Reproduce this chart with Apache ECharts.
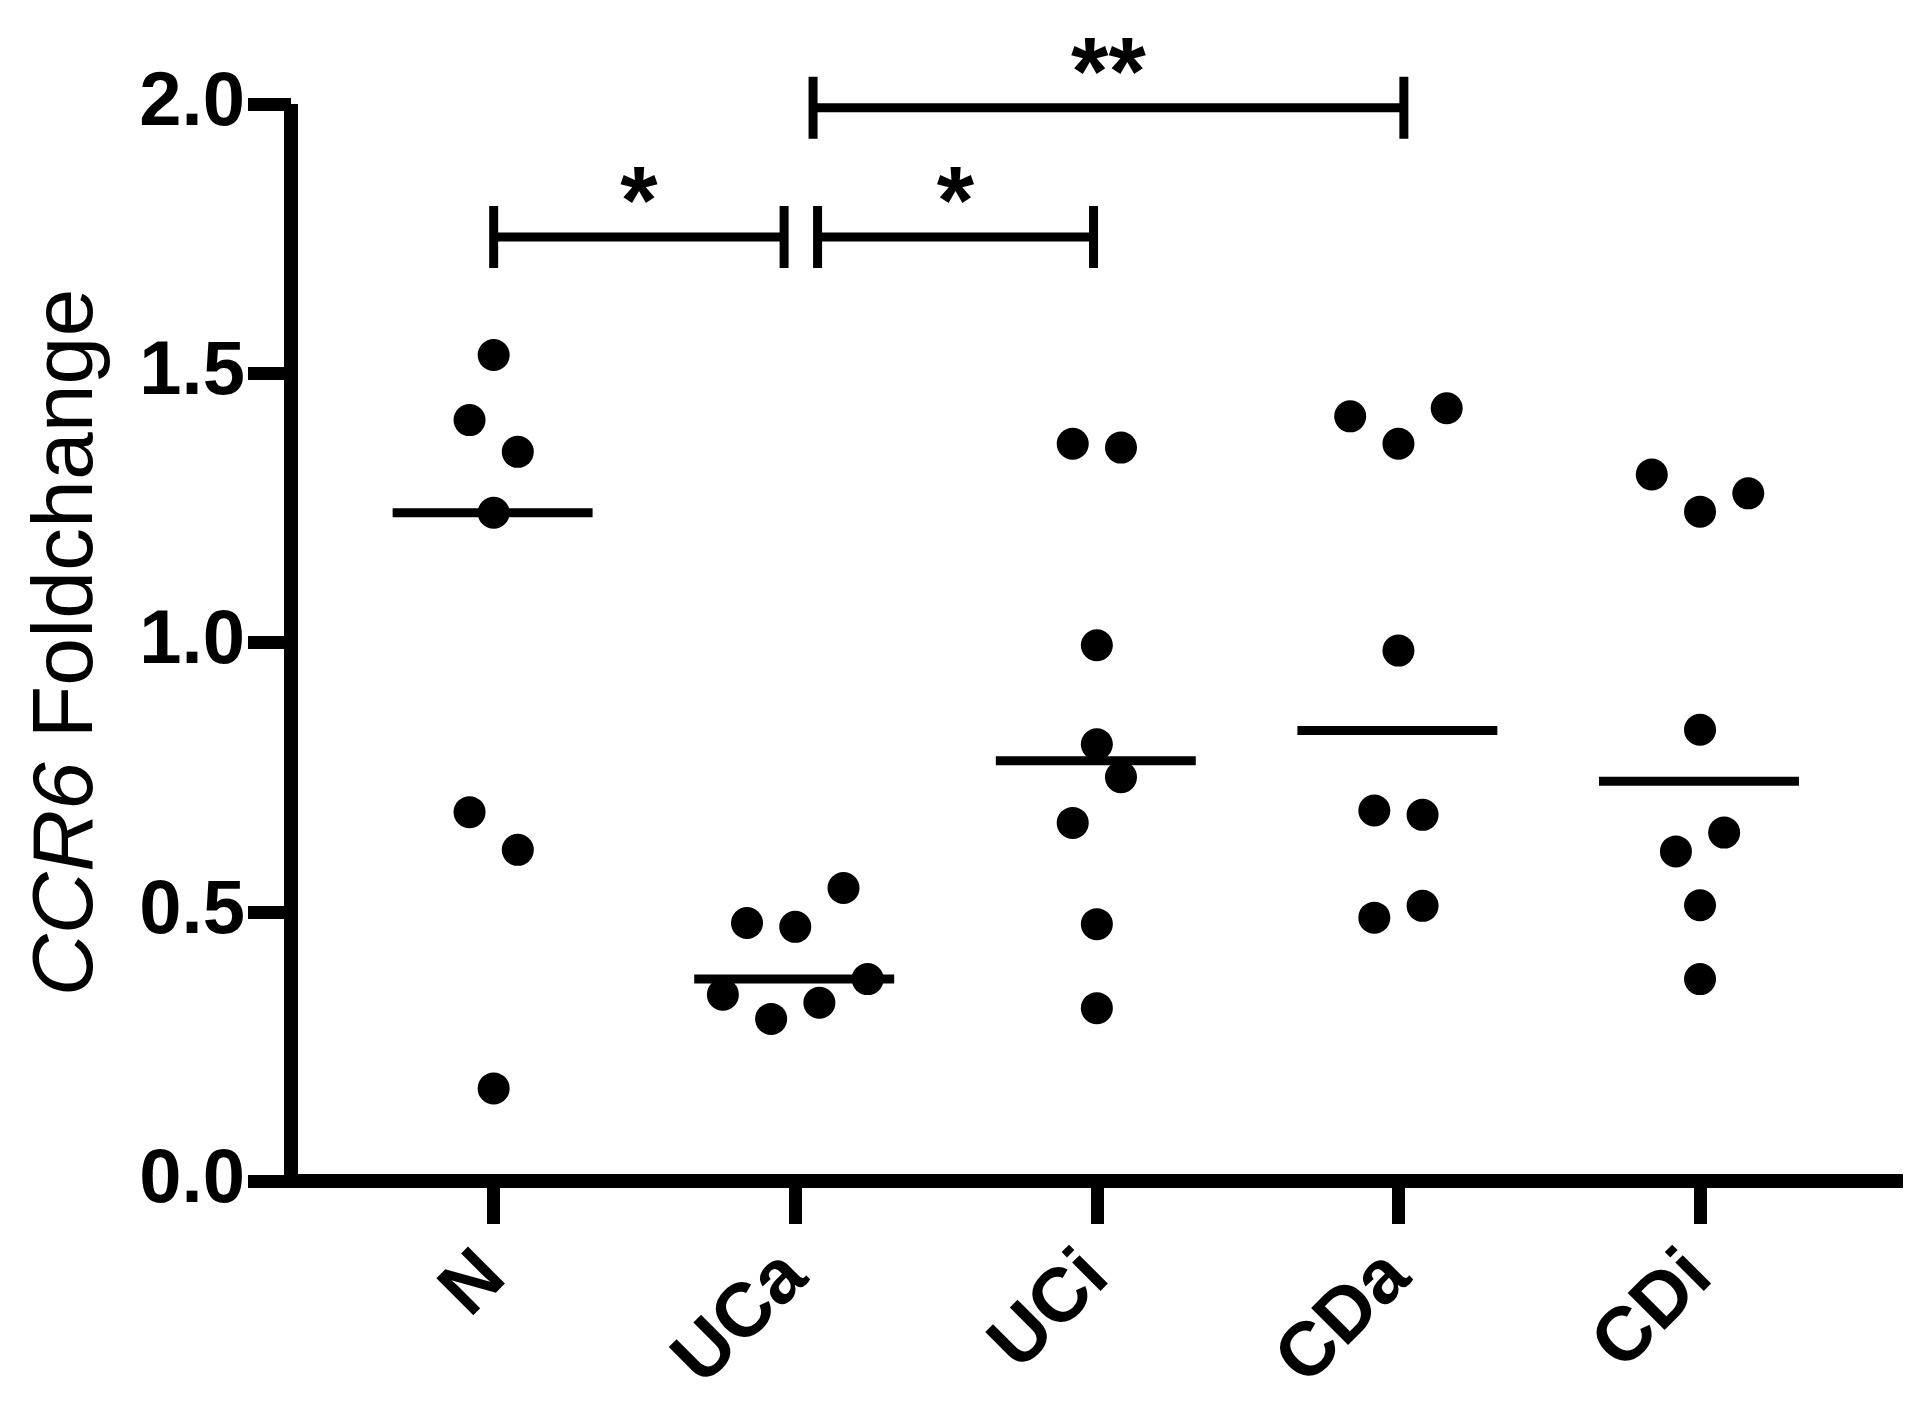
<!DOCTYPE html>
<html>
<head>
<meta charset="utf-8">
<script src="https://cdn.jsdelivr.net/npm/echarts@6/dist/echarts.min.js"></script>
<style>
  html, body { margin: 0; padding: 0; background: #fff; }
  #chart { width: 1925px; height: 1406px; }
</style>
</head>
<body>
<div id="chart"></div>
<script>
// groups on the x axis
const categories = ["N", "UCa", "UCi", "CDa", "CDi"];
const yTicks = [0, 0.5, 1.0, 1.5, 2.0];

// CCR6 fold change per group, with horizontal scatter offset of each dot
const valuesN = [1.534, 1.413, 1.354, 1.241, 0.685, 0.615, 0.172];
const jitterN = [0, -0.08, 0.08, 0, -0.08, 0.08, 0];
const valuesUCa = [0.479, 0.472, 0.544, 0.346, 0.301, 0.331, 0.375];
const jitterUCa = [-0.16, 0, 0.16, -0.24, -0.08, 0.08, 0.24];
const valuesUCi = [1.369, 1.362, 0.995, 0.811, 0.75, 0.665, 0.477, 0.321];
const jitterUCi = [-0.08, 0.08, 0, 0, 0.08, -0.08, 0, 0];
const valuesCDa = [1.42, 1.369, 1.435, 0.985, 0.688, 0.68, 0.489, 0.511];
const jitterCDa = [-0.16, 0, 0.16, 0, -0.08, 0.08, -0.08, 0.08];
const valuesCDi = [1.312, 1.243, 1.277, 0.838, 0.612, 0.647, 0.512, 0.375];
const jitterCDi = [-0.16, 0, 0.16, 0, -0.08, 0.08, 0, 0];

// significance brackets
const bracketFrom = [0, 1.074, 1.059];
const bracketTo = [0.963, 1.989, 3.018];
const bracketY = [1.753, 1.753, 1.993];
const bracketMark = ["*", "*", "**"];

const groups = [
  [valuesN, jitterN],
  [valuesUCa, jitterUCa],
  [valuesUCi, jitterUCi],
  [valuesCDa, jitterCDa],
  [valuesCDi, jitterCDi],
];

const median = (arr) => {
  const s = arr.slice().sort((a, b) => a - b);
  const m = Math.floor(s.length / 2);
  return s.length % 2 ? s[m] : (s[m - 1] + s[m]) / 2;
};

const points = [];
groups.forEach(([vals, jit], i) => {
  vals.forEach((v, k) => points.push([i + jit[k], v]));
});
const medians = groups.map(([vals], i) => [i, median(vals)]);
const brackets = bracketFrom.map((f, i) => [f, bracketTo[i], bracketY[i]]);

const font = "'Liberation Sans', Arial, Helvetica, sans-serif";
const black = "#000";

const chart = echarts.init(document.getElementById("chart"));

chart.setOption({
  backgroundColor: "#fff",
  animation: false,
  grid: { left: 291, right: 22, top: 104, bottom: 225 },
  xAxis: {
    type: "value",
    min: -0.672,
    max: 4.673,
    splitLine: { show: false },
    axisLine: { show: true, onZero: false, lineStyle: { color: black, width: 14, cap: "butt" } },
    axisTick: {
      show: true,
      customValues: [0, 1, 2, 3, 4],
      length: 43,
      lineStyle: { color: black, width: 13 },
    },
    axisLabel: {
      customValues: [0, 1, 2, 3, 4],
      formatter: (v) => categories[Math.round(v)],
      rotate: 45,
      margin: 84,
      color: black,
      fontFamily: font,
      fontWeight: "bold",
      fontSize: 76,
    },
  },
  yAxis: {
    type: "value",
    min: 0,
    max: 2,
    interval: 0.5,
    splitLine: { show: false },
    axisLine: { show: true, onZero: false, lineStyle: { color: black, width: 14, cap: "butt" } },
    axisTick: { show: true, length: 43, lineStyle: { color: black, width: 13 } },
    axisLabel: {
      formatter: (v) => v.toFixed(1),
      margin: 46,
      color: black,
      fontFamily: font,
      fontWeight: "bold",
      fontSize: 76,
    },
    name: "{i|CCR6} Foldchange",
    nameLocation: "middle",
    nameRotate: 90,
    nameGap: 180,
    nameTextStyle: {
      color: black,
      fontFamily: font,
      fontSize: 86,
      rich: {
        i: { fontStyle: "italic", fontSize: 86, fontFamily: font, color: black },
      },
    },
  },
  series: [
    {
      type: "scatter",
      data: points,
      symbol: "circle",
      symbolSize: 32,
      itemStyle: { color: black, opacity: 1 },
      z: 3,
    },
    {
      type: "custom",
      data: medians,
      clip: false,
      z: 4,
      renderItem: (params, api) => {
        const i = api.value(0);
        const m = api.value(1);
        const p1 = api.coord([i - 0.335, m]);
        const p2 = api.coord([i + 0.328, m]);
        return {
          type: "line",
          shape: { x1: p1[0], y1: p1[1], x2: p2[0], y2: p2[1] },
          style: { stroke: black, lineWidth: 9 },
        };
      },
    },
    {
      type: "custom",
      data: brackets,
      clip: false,
      z: 4,
      renderItem: (params, api) => {
        const a = api.coord([api.value(0), api.value(2)]);
        const b = api.coord([api.value(1), api.value(2)]);
        const cap = 31;
        const st = { stroke: black, lineWidth: 9 };
        return {
          type: "group",
          children: [
            { type: "line", shape: { x1: a[0], y1: a[1], x2: b[0], y2: b[1] }, style: st },
            { type: "line", shape: { x1: a[0], y1: a[1] - cap, x2: a[0], y2: a[1] + cap }, style: st },
            { type: "line", shape: { x1: b[0], y1: b[1] - cap, x2: b[0], y2: b[1] + cap }, style: st },
            {
              type: "text",
              style: {
                x: (a[0] + b[0]) / 2,
                y: a[1] - 30,
                text: bracketMark[params.dataIndex],
                fill: black,
                font: "bold 96px " + font,
                align: "center",
                verticalAlign: "middle",
              },
            },
          ],
        };
      },
    },
  ],
});

window.addEventListener("resize", () => chart.resize());
</script>
</body>
</html>
